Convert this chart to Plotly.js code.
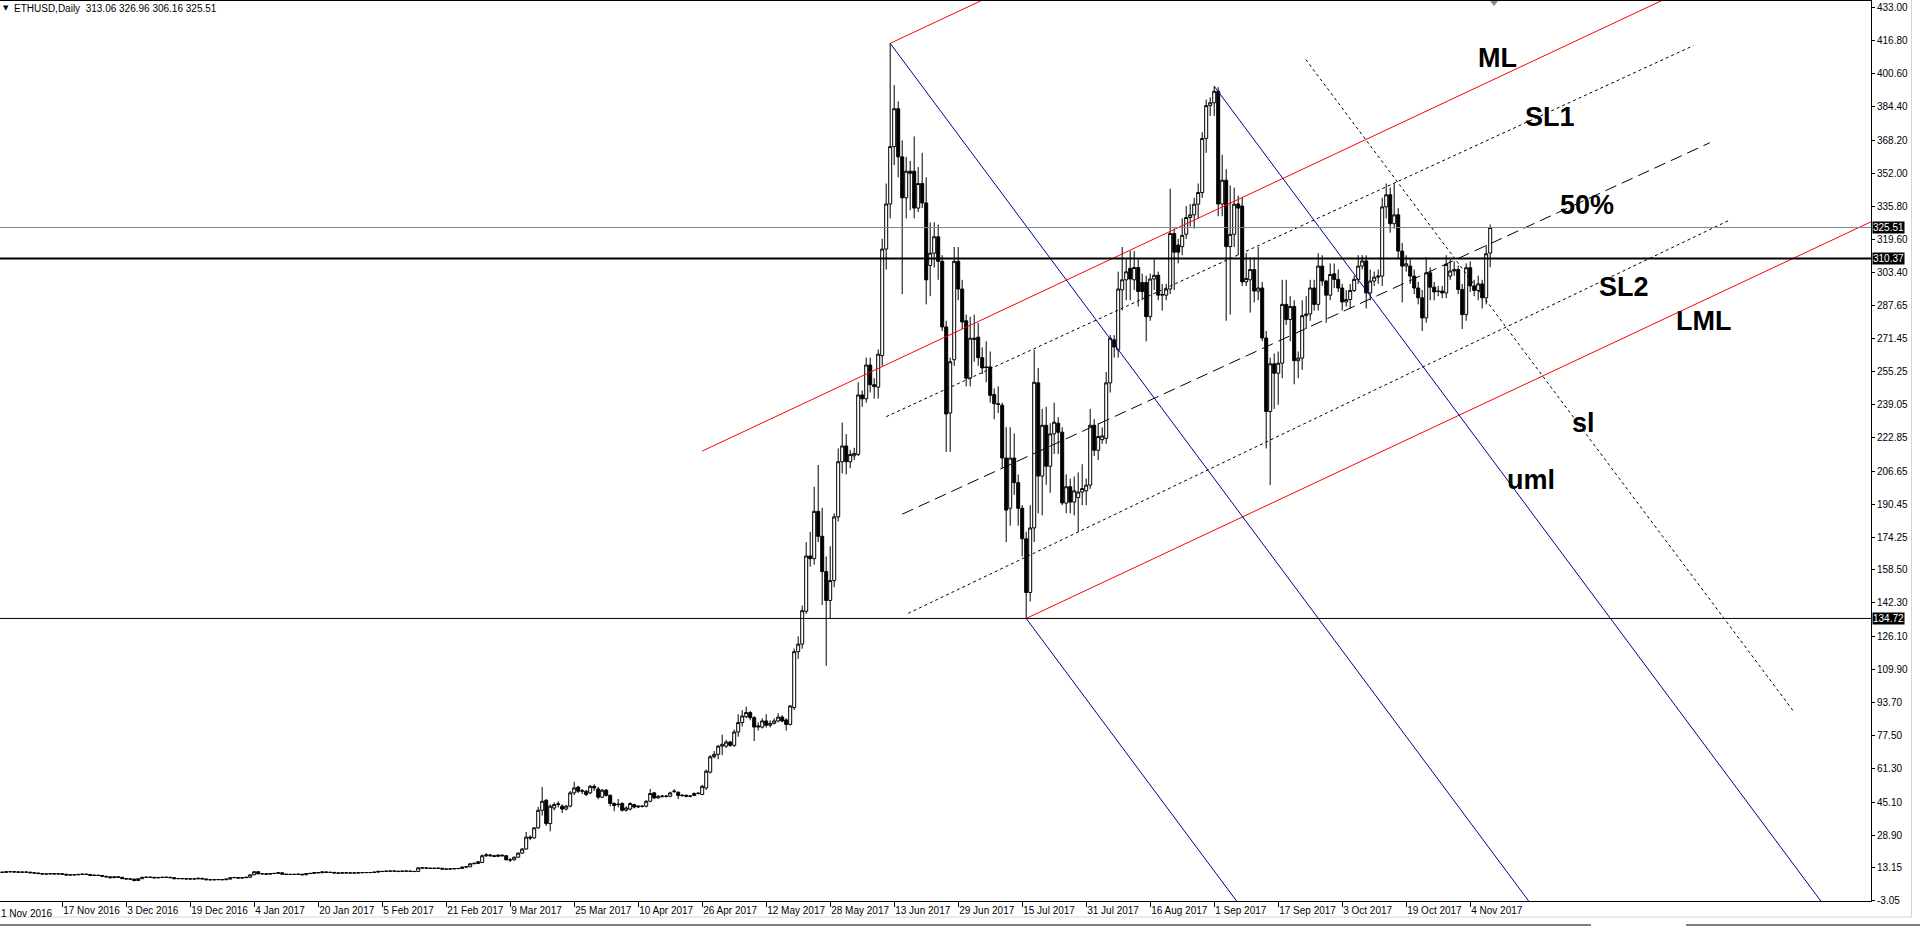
<!DOCTYPE html>
<html><head><meta charset="utf-8">
<script src="https://cdn.plot.ly/plotly-3.0.1.min.js"></script>
<style>html,body{margin:0;padding:0;background:#fff;overflow:hidden}#chart{width:1920px;height:928px}</style>
</head><body><div id="chart"></div>
<script>
const symbolName = 'ETHUSD,Daily';
const startDate = '2016-11-01';

const open = [
11.0,10.9,10.8,11.1,11.1,11.0,10.9,10.9,10.9,10.6,10.5,10.2,10.0,10.0,10.2,10.0,10.1,9.9,9.5,9.6,9.6,9.8,9.9,9.8,9.3,9.4,9.3,8.9,8.6,8.2,8.6,
8.4,7.7,7.6,7.5,6.8,7.7,8.4,8.4,8.4,8.1,8.3,8.4,8.4,8.2,7.7,7.8,7.7,7.6,7.6,7.6,7.9,7.6,7.2,7.2,7.2,7.3,7.2,7.5,8.2,8.3,8.0,
8.2,8.4,9.6,11.1,10.1,10.1,9.9,10.2,10.3,10.6,9.9,9.8,9.8,9.8,9.9,9.6,10.2,10.3,10.7,10.6,11.0,10.8,10.8,10.5,10.4,10.6,10.5,10.5,10.5,10.6,
10.7,10.7,10.7,10.9,11.3,11.2,11.4,11.4,11.4,11.2,11.4,11.4,11.3,11.2,13.0,12.9,12.9,12.7,12.8,12.8,12.4,12.4,12.5,12.6,12.7,13.4,13.5,15.0,
15.1,15.6,18.9,19.3,18.9,18.6,19.2,18.9,16.9,16.9,18.2,20.2,22.2,28.0,27.6,32.5,41.1,46.0,34.6,42.2,
43.9,43.1,41.7,43.1,49.6,52.4,50.4,50.4,49.6,52.8,51.5,47.5,50.9,48.4,44.4,43.9,44.4,41.1,41.7,43.9,
42.7,43.1,43.1,45.5,49.6,47.1,47.9,48.0,47.9,50.3,49.9,48.3,48.4,47.9,48.3,49.3,48.8,52.0,59.7,67.2,
68.4,72.4,72.4,74.4,72.8,79.3,83.9,86.8,88.8,86.3,81.7,81.7,84.7,82.6,83.5,84.7,86.6,85.2,83.0,91.2,
118.5,122.2,138.2,165.2,163.9,187.0,174.8,157.6,143.5,153.2,184.3,211.2,218.9,211.2,214.1,214.8,243.8,241.9,
258.4,248.8,247.6,263.0,315.0,337.0,365.0,383.5,360.0,340.0,353.0,353.0,335.0,347.0,337.5,307.0,313.0,321.0,309.0,277.0,
235.0,261.0,309.0,295.5,280.0,252.0,271.5,272.0,262.0,257.5,257.5,244.0,239.5,238.8,213.0,188.5,213.0,201.0,188.5,173.6,
147.4,178.9,249.7,204.2,229.0,209.0,224.8,230.0,225.6,191.0,199.0,191.5,193.7,196.4,197.0,199.8,229.0,216.8,222.0,222.6,
249.7,270.7,265.8,295.1,300.0,305.6,300.0,306.0,298.7,298.7,282.0,300.4,302.2,292.5,292.5,295.5,322.6,317.0,316.2,322.2,
330.4,331.7,336.9,342.6,369.0,385.0,386.4,392.0,337.0,348.6,316.2,322.2,337.0,336.0,299.0,300.0,305.0,294.5,296.0,271.6,
235.7,259.0,254.4,259.3,288.0,280.6,287.0,260.5,261.8,282.5,283.3,296.0,288.0,306.7,299.4,292.5,302.9,300.2,296.0,289.2,
290.4,294.8,300.2,306.7,309.2,293.6,299.4,301.3,301.8,335.6,341.5,327.4,331.7,314.0,306.7,306.7,301.8,296.0,291.2,281.4,
303.4,296.4,294.5,294.5,293.6,301.8,304.3,305.0,295.3,283.0,305.9,297.0,294.8,298.0,291.2,313.06
];
const high = [
11.2,11.1,11.3,11.4,11.3,11.1,11.1,11.1,11.0,10.8,10.6,10.4,10.2,10.4,10.3,10.3,10.2,10.0,9.8,9.8,10.0,10.1,10.1,9.9,9.6,9.5,9.4,9.0,8.7,8.8,8.8,
8.5,7.9,7.8,7.7,7.8,8.5,8.6,8.6,8.5,8.4,8.5,8.5,8.5,8.3,7.9,7.9,7.8,7.7,7.7,8.0,8.0,7.7,7.4,7.3,7.4,7.4,7.6,8.3,8.4,8.4,8.3,
8.5,9.7,11.4,11.3,10.5,10.3,10.3,10.4,10.8,10.7,10.0,10.0,10.0,10.0,10.0,10.3,10.4,10.8,10.8,11.1,11.1,10.9,10.9,10.6,10.7,10.7,10.6,10.6,10.7,10.8,
10.8,10.8,11.0,11.4,11.4,11.5,11.5,11.6,11.5,11.5,11.5,11.5,11.4,13.3,13.2,13.1,13.0,12.9,13.0,12.9,12.6,12.6,12.7,12.8,13.5,13.8,15.2,15.6,
16.3,19.5,20.2,19.8,19.4,19.6,19.5,19.1,17.8,18.5,20.5,22.6,30.5,28.8,32.9,42.8,52.5,46.5,44.0,45.0,
45.5,44.0,43.8,50.5,55.0,53.0,51.5,51.0,53.5,53.8,52.5,51.5,51.5,48.8,45.0,46.6,45.0,43.0,45.0,44.3,
43.5,43.6,46.0,51.5,50.0,48.5,48.5,48.6,50.2,51.4,50.3,49.0,48.8,48.6,49.8,49.9,53.5,61.0,68.0,70.0,
73.0,78.0,75.5,75.0,80.5,88.0,90.0,91.7,89.5,87.0,84.0,86.0,88.0,85.0,86.0,88.5,87.5,86.0,92.5,120.0,
126.0,141.0,172.0,177.0,199.0,209.6,188.7,165.0,170.0,186.0,217.7,230.3,224.7,217.0,218.0,250.0,246.0,262.0,
262,252,266,320,347,415.4,395,387,368,360,358,370,355,362,350,328,328,327,312,280,
262,316,316,300,283,282,283,279,267,270,265,247,248,240,228,228,225,205,190,177,
190,265.8,257,237,238,230,240,233,228,205,203,204,206,210,203,237,232,230,228,255,
273,273,304,316,310,314,314,310,303,302,303,310,304,298,298,344.5,325,320,330,336,
337,340,347,372,388,389,394.5,394,361,354,346,345,341,340,313,311,311,316,299,275,
262,264,265,300,300,292,290,265,290,292,300,300,313,312,300,308,308,305,298,295,
298,302,312,312,312,305,304,305,340,347,345,347,335,318,312,310,305,299,295,311,
306,299,297,297,312,310,309,307,298,308,309,300,302,300,317,326.96
];
const low = [
10.7,10.6,10.7,10.9,10.8,10.7,10.7,10.7,10.5,10.3,10.0,9.8,9.8,9.9,9.9,9.9,9.7,9.3,9.4,9.4,9.5,9.7,9.6,9.1,9.2,9.1,8.7,8.4,7.9,8.1,8.2,
7.6,7.4,7.4,6.4,6.7,7.6,8.2,8.2,8.0,8.0,8.1,8.3,8.1,7.6,7.5,7.6,7.5,7.5,7.5,7.5,7.5,7.1,7.0,7.1,7.1,7.1,7.1,7.4,8.0,7.9,7.9,
8.1,8.3,9.5,9.8,9.8,9.7,9.8,10.1,10.2,9.7,9.6,9.7,9.7,9.7,9.5,9.5,10.1,10.2,10.5,10.5,10.7,10.7,10.4,10.3,10.3,10.4,10.4,10.4,10.4,10.5,
10.6,10.6,10.6,10.8,11.1,11.1,11.3,11.3,11.1,11.1,11.3,11.2,11.1,11.1,12.6,12.6,12.5,12.6,12.6,12.3,12.2,12.3,12.4,12.5,12.6,13.2,13.4,14.8,
14.9,15.4,18.3,18.6,18.2,18.4,18.6,16.7,15.8,16.6,18.0,19.9,22.0,26.5,27.2,32.0,38.5,33.5,30.8,41.0,
42.5,39.8,41.0,42.5,48.5,49.5,49.0,48.0,49.0,50.5,46.5,47.0,47.8,43.0,40.6,42.5,40.5,40.5,41.0,42.0,
42.2,42.5,42.5,45.0,46.5,46.8,47.2,47.3,47.5,49.5,46.5,47.6,47.4,47.4,48.0,48.8,48.5,51.0,59.0,66.5,
66.0,68.0,71.5,72.0,72.0,77.0,82.0,86.0,85.0,74.9,80.0,81.0,81.5,81.5,83.0,84.0,84.0,80.0,82.5,90.0,
115.0,120.0,137.0,160.0,161.0,172.0,141.3,111.6,134.7,150.0,182.0,205.5,205.0,208.0,212.0,214.0,238.0,240.0,
245,242,242,258,305,330,356,350,293,330,334,330,333,335,288,292,306,300,275,216,
216,258,290,276,248,248,260,258,254,250,240,232,235,208,172,180,195,180,165,134.72,
143,172,186,185,200,196,215,215,190,186,186,185,177,190,190,198,214,212,220,220,
245,262,262,285,290,290,295,287,290,270,280,295,290,285,290,293,295,308,312,320,
326,325,330,340,362,380,380,331,331,280,283,316,312,297,297,284,289,290,270,217.7,
199.8,237,239,252,278,270,249,252,256,276,280,285,285,297,279,290,296,294,285,287,
286,294,298,305,286,290,297,298,297,330,323,325,310,289,304,298,293,288,275,279,
290,290,292,291,291,300,302,293,276,280,294,292,290,286,288,306.16
];
const close = [
10.9,10.8,11.1,11.1,11.0,10.9,10.9,10.9,10.6,10.5,10.2,10.0,10.0,10.2,10.0,10.1,9.9,9.5,9.6,9.6,9.8,9.9,9.8,9.3,9.4,9.3,8.9,8.6,8.2,8.6,8.4,
7.7,7.6,7.5,6.8,7.7,8.4,8.4,8.4,8.1,8.3,8.4,8.4,8.2,7.7,7.8,7.7,7.6,7.6,7.6,7.9,7.6,7.2,7.2,7.2,7.3,7.2,7.5,8.2,8.3,8.0,8.2,
8.4,9.6,11.1,10.1,10.1,9.9,10.2,10.3,10.6,9.9,9.8,9.8,9.8,9.9,9.6,10.2,10.3,10.7,10.6,11.0,10.8,10.8,10.5,10.4,10.6,10.5,10.5,10.5,10.6,10.7,
10.7,10.7,10.9,11.3,11.2,11.4,11.4,11.4,11.2,11.4,11.4,11.3,11.2,13.0,12.9,12.9,12.7,12.8,12.8,12.4,12.4,12.5,12.6,12.7,13.4,13.5,15.0,15.2,
16.0,18.9,19.3,18.9,18.6,19.2,18.9,16.9,16.9,18.2,20.2,22.2,28.0,27.6,32.5,41.1,45.5,34.6,43.1,43.9,
44.2,41.7,43.1,49.6,52.0,50.4,50.6,48.8,52.8,52.0,47.5,50.9,48.4,44.4,43.4,44.0,41.1,42.2,44.4,42.7,
43.1,43.0,45.5,49.3,47.1,47.9,48.0,47.9,49.6,50.4,48.3,48.4,47.9,48.0,49.3,49.4,52.8,60.2,67.2,68.4,
72.4,73.3,74.4,72.8,79.3,83.9,87.1,88.8,86.3,81.7,82.2,84.7,82.6,83.5,84.7,86.6,84.7,83.0,92.0,118.5,
122.2,138.5,165.2,163.9,187.0,174.8,157.6,143.5,153.2,184.3,211.2,218.9,211.2,214.8,215.3,243.8,241.9,258.4,
248.8,247.9,263.7,315.0,337.0,365.0,383.5,360.0,340.0,353.0,352.0,335.0,347.0,337.5,300.0,313.0,321.0,309.0,277.0,234.5,
260.0,309.0,295.5,279.4,252.0,271.5,271.0,262.0,257.0,257.2,243.6,239.5,239.2,213.0,187.6,213.0,201.0,188.5,173.6,147.4,
178.9,250.0,204.2,229.0,209.0,224.8,230.5,225.6,191.1,199.0,191.5,197.0,196.4,198.1,199.8,229.0,216.8,223.5,223.8,249.7,
271.5,267.2,295.5,300.0,303.9,300.4,306.0,294.3,294.3,282.0,300.4,302.2,292.5,292.8,295.5,322.6,313.5,313.5,321.7,330.4,
331.7,336.9,342.6,369.0,385.0,386.4,392.0,337.0,348.6,316.2,322.2,336.9,335.0,299.0,300.7,305.0,294.5,296.0,271.6,235.7,
259.0,254.4,259.3,288.0,280.6,287.0,260.5,261.8,282.5,283.3,296.0,288.0,306.7,299.4,292.5,302.6,300.2,296.0,289.2,290.4,
294.8,300.2,306.7,309.2,293.6,299.4,301.3,301.8,335.6,341.5,327.4,331.7,314.0,306.7,307.8,301.8,296.0,291.2,281.4,303.4,
296.4,294.1,294.3,293.6,307.5,304.3,305.0,295.3,283.0,305.9,297.0,294.8,298.0,291.2,312.7,325.51
];

const xTickDates = ['2016-11-17','2016-12-03','2016-12-19','2017-01-04','2017-01-20','2017-02-05','2017-02-21','2017-03-09','2017-03-25','2017-04-10','2017-04-26','2017-05-12','2017-05-28','2017-06-13','2017-06-29','2017-07-15','2017-07-31','2017-08-16','2017-09-01','2017-09-17','2017-10-03','2017-10-19','2017-11-04'];
const xTickLabels = ['17 Nov 2016','3 Dec 2016','19 Dec 2016','4 Jan 2017','20 Jan 2017','5 Feb 2017','21 Feb 2017','9 Mar 2017','25 Mar 2017','10 Apr 2017','26 Apr 2017','12 May 2017','28 May 2017','13 Jun 2017','29 Jun 2017','15 Jul 2017','31 Jul 2017','16 Aug 2017','1 Sep 2017','17 Sep 2017','3 Oct 2017','19 Oct 2017','4 Nov 2017'];
const firstTickLabel = '1 Nov 2016';
const yTickValues = [433.00,416.80,400.60,384.40,368.20,352.00,335.80,319.60,303.40,287.65,271.45,255.25,239.05,222.85,206.65,190.45,174.25,158.50,142.30,126.10,109.90,93.70,77.50,61.30,45.10,28.90,13.15,-3.05];

const levelPrices = [310.37, 134.72];

const redForkDates = ['2017-04-26', '2017-06-12', '2017-07-16'];
const redForkPrices = [216.4, 415.4, 134.72];
const blueForkDates = ['2017-06-12', '2017-07-16', '2017-09-01'];
const blueForkPrices = [415.4, 134.72, 394.5];

const sl1Dates = ['2017-06-11 00:00', '2017-12-29 19:12'];
const sl1Prices = [233.2, 414.3];
const halfDates = ['2017-06-15 00:00', '2018-01-02 21:36'];
const halfPrices = [185.6, 366.9];
const sl2Dates = ['2017-06-16 12:00', '2018-01-07 21:36'];
const sl2Prices = [137.2, 329.2];
const slDates = ['2017-09-23 21:36', '2018-01-23 19:12'];
const slPrices = [407.5, 89.5];

const labelTexts = ['ML', 'SL1', '50%', 'SL2', 'LML', 'sl', 'uml'];
const labelDates = ['2017-11-10 16:48', '2017-11-23 21:36', '2017-12-03 02:24', '2017-12-12 09:36', '2018-01-01 07:12', '2017-12-02 09:36', '2017-11-19 02:24'];
const labelPrices = [408.1, 379.6, 336.5, 296.6, 280.0, 230.0, 202.3];

// ---------- helpers ----------
const DAY = 86400000;
function T(s) {
  const parts = s.split(' ');
  const [Y, M, D] = parts[0].split('-').map(Number);
  let h = 0, mi = 0;
  if (parts[1]) { [h, mi] = parts[1].split(':').map(Number); }
  return Date.UTC(Y, M - 1, D, h, mi);
}
function S(t) { return new Date(t).toISOString().slice(0, 19).replace('T', ' '); }

const t0 = T(startDate);
const dates = close.map((_, i) => S(t0 + i * DAY).slice(0, 10));

const FONT = 'Liberation Sans, Arial, sans-serif';
const traces = [];

traces.push({
  type: 'candlestick', x: dates, open: open, high: high, low: low, close: close,
  increasing: { line: { color: '#000', width: 1 }, fillcolor: '#ffffff' },
  decreasing: { line: { color: '#000', width: 1 }, fillcolor: '#000000' },
  whiskerwidth: 0, hoverinfo: 'skip', showlegend: false
});

function seg(xs, ys, color, dash) {
  traces.push({ type: 'scatter', mode: 'lines', x: xs, y: ys, hoverinfo: 'skip', showlegend: false,
    line: { color: color, width: 1, dash: dash || 'solid' } });
}

// red Andrews pitchfork
(function () {
  const t = redForkDates.map(T), p = redForkPrices;
  const tm = (t[1] + t[2]) / 2, pm = (p[1] + p[2]) / 2;
  const k = (pm - p[0]) / (tm - t[0]);
  const tEnd = T('2018-04-01');
  [0, 1, 2].forEach(i => seg([S(t[i]), S(tEnd)], [p[i], p[i] + k * (tEnd - t[i])], '#ff0000'));
})();

// blue pitchfork
(function () {
  const t = blueForkDates.map(T), p = blueForkPrices;
  const tm = (t[1] + t[2]) / 2, pm = (p[1] + p[2]) / 2;
  const k = (pm - p[0]) / (tm - t[0]);
  const pEnd = -60;
  [0, 1, 2].forEach(i => {
    const te = t[i] + (pEnd - p[i]) / k;
    seg([S(t[i]), S(te)], [p[i], pEnd], '#00008b');
  });
})();

seg(sl1Dates, sl1Prices, '#000', 'dot');
seg(halfDates, halfPrices, '#000', '12px,6px');
seg(sl2Dates, sl2Prices, '#000', 'dot');
seg(slDates, slPrices, '#000', 'dot');

const last = close.length - 1;
const bidPrice = close[last];

const PLOT_W = 1871, PLOT_H = 900;
const shapes = [];
shapes.push({ type: 'line', xref: 'paper', x0: 0, x1: 1, yref: 'y', y0: bidPrice, y1: bidPrice, line: { color: '#778899', width: 1 } });
shapes.push({ type: 'line', xref: 'paper', x0: 0, x1: 1, yref: 'y', y0: levelPrices[0], y1: levelPrices[0], line: { color: '#000', width: 2 } });
shapes.push({ type: 'line', xref: 'paper', x0: 0, x1: 1, yref: 'y', y0: levelPrices[1], y1: levelPrices[1], line: { color: '#000', width: 1 } });
// chart-shift marker at top
shapes.push({ type: 'path', xref: 'paper', yref: 'paper',
  path: 'M ' + (1490 / PLOT_W) + ',1 L ' + (1498 / PLOT_W) + ',1 L ' + (1494 / PLOT_W) + ',' + (1 - 5 / PLOT_H) + ' Z',
  fillcolor: '#8a8a96', line: { width: 0 } });
// window frame lines
shapes.push({ type: 'line', xref: 'paper', yref: 'paper', x0: 1911.5 / PLOT_W, x1: 1911.5 / PLOT_W, y0: 1 + 1 / PLOT_H, y1: 1 - 916 / PLOT_H, line: { color: '#d4d4d4', width: 1 } });
shapes.push({ type: 'line', xref: 'paper', yref: 'paper', x0: 0, x1: 1911.5 / PLOT_W, y0: 1 - 916 / PLOT_H, y1: 1 - 916 / PLOT_H, line: { color: '#d4d4d4', width: 1 } });
shapes.push({ type: 'line', xref: 'paper', yref: 'paper', x0: 0, x1: 1591 / PLOT_W, y0: 1 - 924 / PLOT_H, y1: 1 - 924 / PLOT_H, line: { color: '#000', width: 1 } });
shapes.push({ type: 'line', xref: 'paper', yref: 'paper', x0: 1686 / PLOT_W, x1: 1920 / PLOT_W, y0: 1 - 924 / PLOT_H, y1: 1 - 924 / PLOT_H, line: { color: '#000', width: 1 } });

const annotations = [];
// title
annotations.push({ xref: 'paper', yref: 'paper', x: 1.5 / PLOT_W, y: 1 - 2 / PLOT_H, xanchor: 'left', yanchor: 'top', showarrow: false,
  text: '\u25BC', font: { family: 'DejaVu Sans', size: 7, color: '#000' }, borderpad: 0 });
annotations.push({ xref: 'paper', yref: 'paper', x: 12 / PLOT_W, y: 1, xanchor: 'left', yanchor: 'top', showarrow: false,
  text: symbolName + '  ' + open[last].toFixed(2) + ' ' + high[last].toFixed(2) + ' ' + low[last].toFixed(2) + ' ' + close[last].toFixed(2),
  font: { family: FONT, size: 10, color: '#000' }, borderpad: 1 });
// first date label at the left edge
annotations.push({ xref: 'paper', yref: 'paper', x: 0, xshift: 0, y: 1 - 912 / PLOT_H, xanchor: 'left', yanchor: 'middle', showarrow: false,
  text: firstTickLabel, font: { family: FONT, size: 10, color: '#000' }, borderpad: 0 });
// price tags
[bidPrice, levelPrices[0], levelPrices[1]].forEach(v => {
  annotations.push({ xref: 'paper', x: 1, xanchor: 'left', xshift: 1, yref: 'y', y: v, yanchor: 'middle', showarrow: false,
    text: v.toFixed(2), bgcolor: '#000', font: { family: FONT, size: 10, color: '#fff' }, borderpad: 0 });
});
// drawing labels
labelTexts.forEach((s, i) => {
  annotations.push({ x: labelDates[i], y: labelPrices[i], xref: 'x', yref: 'y', showarrow: false,
    text: '<b>' + s + '</b>', font: { family: FONT, size: 27, color: '#000' } });
});

const layout = {
  width: 1920, height: 928,
  margin: { l: 0, r: 49, t: 1, b: 27, pad: 0 },
  paper_bgcolor: '#ffffff', plot_bgcolor: '#ffffff',
  showlegend: false, boxgap: 0.25, boxgroupgap: 0,
  xaxis: {
    type: 'date', range: ['2016-11-01 10:48', '2018-02-12 04:48'],
    tickvals: xTickDates, ticktext: xTickLabels, ticks: 'outside', ticklen: 5, tickcolor: '#000', tickwidth: 1,
    ticklabelposition: 'outside right', tickangle: 0, automargin: false,
    showgrid: false, zeroline: false, showline: true, linecolor: '#000', linewidth: 1, mirror: true,
    tickfont: { family: FONT, size: 10, color: '#000' }, rangeslider: { visible: false }, fixedrange: true
  },
  yaxis: {
    side: 'right', range: [-3.18, 436.07],
    tickvals: yTickValues, ticktext: yTickValues.map(v => v.toFixed(2)),
    ticks: 'outside', ticklen: 3, tickcolor: '#000', tickwidth: 1, automargin: false,
    showgrid: false, zeroline: false, showline: true, linecolor: '#000', linewidth: 1,
    tickfont: { family: FONT, size: 10, color: '#000' }, fixedrange: true
  },
  shapes: shapes, annotations: annotations
};

Plotly.newPlot('chart', traces, layout, { staticPlot: true, displayModeBar: false });
</script>
</body></html>
